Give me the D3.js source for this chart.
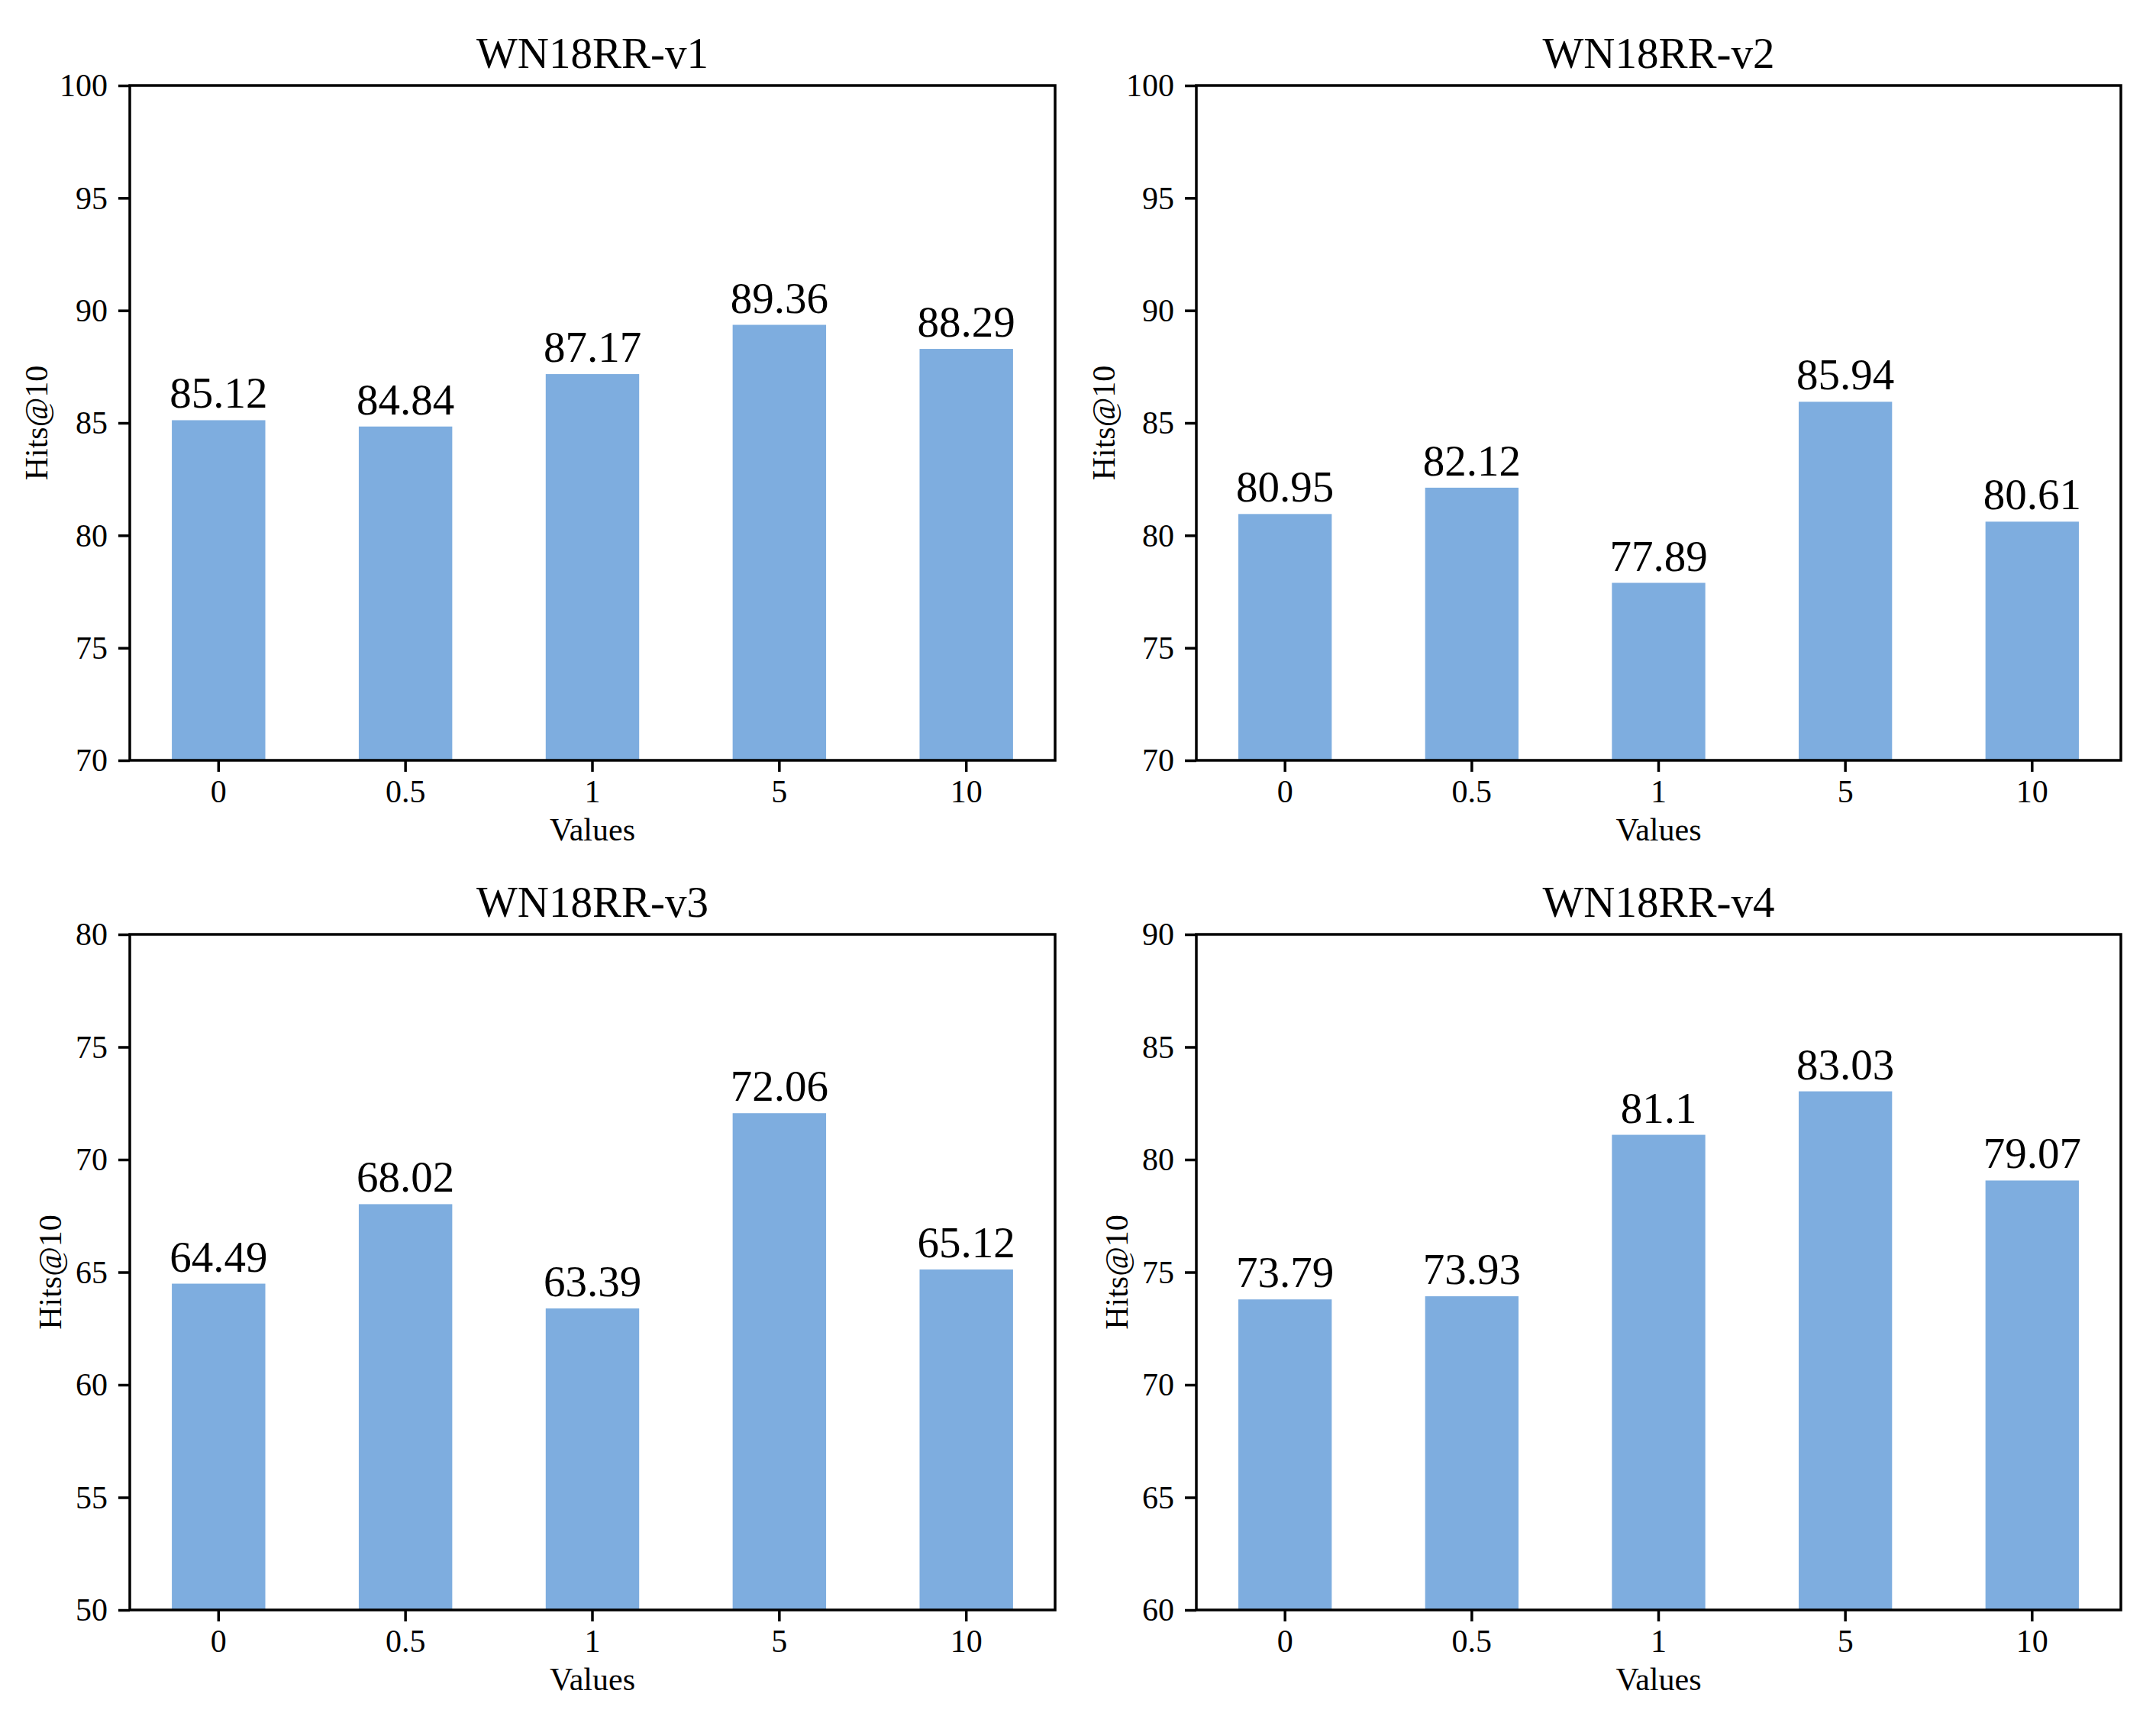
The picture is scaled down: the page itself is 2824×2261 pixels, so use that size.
<!DOCTYPE html>
<html>
<head>
<meta charset="utf-8">
<script src="https://cdn.jsdelivr.net/npm/d3@7"></script>
<style>
  body { margin: 0; background: #fff; }
  svg text { font-family: "Liberation Serif", "Times New Roman", serif; fill: #000; }
</style>
</head>
<body>
<div id="chart"></div>
<script>
const categories = ['0', '0.5', '1', '5', '10'];
const titles = ['WN18RR-v1', 'WN18RR-v2', 'WN18RR-v3', 'WN18RR-v4'];
const v1 = [85.12, 84.84, 87.17, 89.36, 88.29];
const v2 = [80.95, 82.12, 77.89, 85.94, 80.61];
const v3 = [64.49, 68.02, 63.39, 72.06, 65.12];
const v4 = [73.79, 73.93, 81.1, 83.03, 79.07];
const yDomains = [[70, 100], [70, 100], [50, 80], [60, 90]];
const yTicks = [
  [70, 75, 80, 85, 90, 95, 100],
  [70, 75, 80, 85, 90, 95, 100],
  [50, 55, 60, 65, 70, 75, 80],
  [60, 65, 70, 75, 80, 85, 90]
];
const series = [v1, v2, v3, v4];

const W = 2824, H = 2261;
const barColor = '#7eaddf';
// panel boxes: left, top, width, height, y label offset
const panels = [
  {x: 170, y: 112, w: 1212, h: 884, lab: 122},
  {x: 1567, y: 112, w: 1211, h: 884, lab: 121},
  {x: 170, y: 1224, w: 1212, h: 885, lab: 104},
  {x: 1567, y: 1224, w: 1211, h: 885, lab: 104}
];

const svg = d3.select('#chart').append('svg')
  .attr('width', W)
  .attr('height', H);

svg.append('rect').attr('width', W).attr('height', H).attr('fill', '#fff');

panels.forEach((p, i) => {
  const g = svg.append('g').attr('transform', `translate(${p.x},${p.y})`);

  const x = d3.scaleBand()
    .domain(categories)
    .range([0, p.w])
    .paddingInner(0.5)
    .paddingOuter(0.225);

  const y = d3.scaleLinear()
    .domain(yDomains[i])
    .range([p.h, 0]);

  const data = series[i].map((v, j) => ({cat: categories[j], v: v}));

  g.selectAll('rect.bar')
    .data(data)
    .enter().append('rect')
    .attr('class', 'bar')
    .attr('x', d => x(d.cat))
    .attr('width', x.bandwidth())
    .attr('y', d => y(d.v))
    .attr('height', d => p.h - y(d.v))
    .attr('fill', barColor);

  g.selectAll('text.val')
    .data(data)
    .enter().append('text')
    .attr('class', 'val')
    .attr('x', d => x(d.cat) + x.bandwidth() / 2)
    .attr('y', d => y(d.v) - 16)
    .attr('text-anchor', 'middle')
    .style('font-size', '57px')
    .text(d => String(d.v));

  // axes
  const xAxis = g.append('g')
    .attr('transform', `translate(0,${p.h})`)
    .call(d3.axisBottom(x).tickSize(15).tickPadding(9));
  const yAxis = g.append('g')
    .call(d3.axisLeft(y).tickValues(yTicks[i]).tickSize(15).tickPadding(14));

  [xAxis, yAxis].forEach(a => {
    a.select('.domain').remove();
    a.selectAll('.tick line').attr('stroke', '#000').attr('stroke-width', 3.5);
    a.selectAll('.tick text').style('font-size', '42px').attr('fill', '#000');
  });
  yAxis.selectAll('.tick text').attr('dy', '0.33em');
  xAxis.selectAll('.tick text').attr('dy', '0.74em');

  // frame
  g.append('rect')
    .attr('width', p.w)
    .attr('height', p.h)
    .attr('fill', 'none')
    .attr('stroke', '#000')
    .attr('stroke-width', 3.5);

  g.append('text')
    .attr('x', p.w / 2)
    .attr('y', -23)
    .attr('text-anchor', 'middle')
    .style('font-size', '57px')
    .text(titles[i]);

  g.append('text')
    .attr('x', p.w / 2)
    .attr('y', p.h + 105)
    .attr('text-anchor', 'middle')
    .style('font-size', '42px')
    .text('Values');

  g.append('text')
    .attr('transform', `translate(${-p.lab},${p.h / 2}) rotate(-90)`)
    .attr('dy', '0.33em')
    .attr('text-anchor', 'middle')
    .style('font-size', '42px')
    .text('Hits@10');
});
</script>
</body>
</html>
